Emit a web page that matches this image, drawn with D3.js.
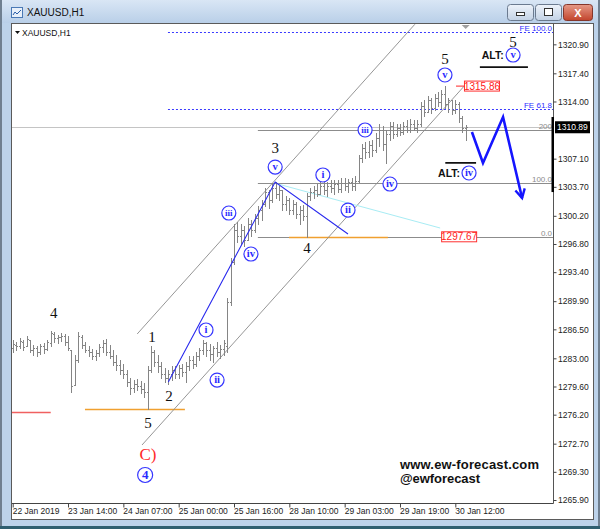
<!DOCTYPE html>
<html>
<head>
<meta charset="utf-8">
<script src="https://cdn.jsdelivr.net/npm/d3@7/dist/d3.min.js"></script>
<style>html,body{margin:0;padding:0;overflow:hidden;background:#fff}svg{display:block}</style>
</head>
<body>
<svg id="chart" width="600" height="529"></svg>
<script>
// ---------------- DATA ----------------
const symbolTitle = "XAUUSD,H1";
const timeLabels = ["22 Jan 2019","23 Jan 14:00","24 Jan 07:00","25 Jan 00:00","25 Jan 16:00","28 Jan 10:00","29 Jan 03:00","29 Jan 19:00","30 Jan 12:00"];
const timeLabelBars = [0,16,32,48,64,80,96,112,128];
const priceTicks = [1320.90,1317.40,1314.00,1307.10,1303.70,1300.20,1296.80,1293.40,1289.90,1286.50,1283.00,1279.60,1276.20,1272.70,1269.30,1265.90];

const opens = [1284.25,1284.61,1284.49,1284.97,1284.49,1285.21,1284.00,1284.25,1283.76,1284.49,
1284.13,1284.85,1285.94,1285.45,1285.57,1285.69,1284.97,1284.00,1279.78,1282.80,
1285.57,1284.61,1284.00,1283.76,1283.28,1283.64,1284.37,1284.85,1283.76,1283.28,
1282.56,1282.19,1281.59,1281.11,1280.14,1279.42,1279.90,1279.66,1279.30,1278.94,
1281.59,1283.76,1282.56,1282.07,1281.11,1280.63,1281.11,1281.59,1281.11,1281.83,
1281.35,1282.07,1282.80,1282.32,1283.28,1284.00,1284.85,1284.00,1283.52,1284.25,
1283.76,1284.13,1284.49,1289.80,1294.63,1298.49,1297.76,1298.49,1297.28,1299.21,
1298.49,1299.94,1300.90,1301.63,1303.08,1302.11,1303.56,1302.83,1303.32,1301.63,
1302.11,1300.90,1301.63,1300.42,1300.90,1300.18,1302.59,1303.08,1303.32,1302.83,
1303.80,1303.32,1303.80,1303.56,1304.04,1303.44,1304.16,1303.80,1304.28,1303.80,
1304.40,1307.18,1308.39,1307.90,1308.75,1308.14,1309.59,1310.56,1308.87,1310.08,
1311.04,1310.08,1310.80,1310.32,1311.04,1310.56,1311.28,1310.80,1311.28,1313.46,
1312.73,1314.18,1313.21,1314.42,1313.94,1314.90,1313.70,1314.18,1312.97,1313.70,
1312.01,1310.80];
const highs = [1285.21,1284.97,1285.45,1285.21,1285.69,1285.21,1284.61,1284.49,1284.73,1284.85,
1285.21,1286.30,1286.18,1285.82,1286.06,1285.94,1285.69,1284.00,1283.40,1286.18,
1285.82,1284.97,1284.49,1284.13,1284.00,1284.73,1285.21,1285.33,1284.61,1284.00,
1283.40,1282.80,1282.32,1281.59,1280.63,1280.38,1280.50,1280.26,1280.02,1282.07,
1284.49,1284.00,1283.40,1282.56,1281.83,1281.59,1282.07,1282.07,1282.19,1282.32,
1282.56,1283.28,1283.28,1283.76,1284.25,1285.21,1284.97,1284.73,1284.49,1284.97,
1284.61,1285.21,1290.28,1295.11,1299.21,1299.45,1299.21,1298.97,1299.94,1299.70,
1300.42,1301.39,1302.11,1303.56,1303.32,1304.16,1304.28,1303.80,1303.32,1302.59,
1302.35,1302.11,1301.87,1301.39,1301.51,1302.95,1303.56,1303.80,1304.04,1304.28,
1304.52,1304.28,1304.52,1304.52,1304.52,1304.77,1304.77,1304.64,1304.77,1305.01,
1307.54,1308.87,1309.11,1309.23,1309.35,1310.20,1311.28,1311.04,1310.56,1311.52,
1311.52,1311.28,1311.28,1311.52,1311.77,1311.89,1311.77,1311.77,1313.94,1314.18,
1314.66,1314.42,1314.90,1315.15,1315.39,1315.86,1314.42,1314.18,1314.18,1313.94,
1312.25,1311.16];
const lows = [1283.76,1284.00,1284.25,1284.00,1284.49,1283.76,1283.40,1283.28,1283.52,1283.64,
1284.00,1284.49,1284.97,1284.85,1285.09,1284.61,1284.00,1278.94,1279.78,1282.56,
1284.25,1283.76,1283.28,1282.92,1282.80,1283.28,1283.76,1283.40,1283.04,1282.19,
1281.59,1281.11,1280.63,1279.66,1278.69,1278.94,1279.18,1278.81,1278.33,1276.88,
1281.35,1282.07,1281.35,1280.63,1280.14,1279.90,1280.38,1280.63,1280.63,1280.87,
1280.14,1281.59,1281.83,1282.07,1282.80,1283.52,1283.28,1282.80,1282.56,1283.28,
1283.04,1283.40,1283.76,1289.44,1294.39,1297.04,1296.80,1296.56,1297.28,1297.76,
1298.25,1299.21,1299.70,1301.39,1301.14,1301.87,1302.35,1302.11,1300.90,1300.90,
1300.42,1300.42,1299.94,1299.21,1299.70,1297.67,1302.11,1302.35,1302.59,1302.83,
1302.83,1302.59,1303.08,1302.83,1303.08,1303.08,1303.32,1303.08,1303.32,1303.32,
1304.28,1306.70,1307.18,1307.30,1307.42,1307.90,1308.63,1308.14,1306.58,1309.35,
1309.59,1309.83,1309.96,1310.08,1310.32,1310.32,1310.56,1310.32,1311.04,1312.25,
1312.73,1312.61,1312.97,1313.46,1313.21,1313.21,1312.73,1312.49,1312.61,1311.52,
1310.32,1309.35];
const closes = [1284.73,1284.49,1285.09,1284.37,1285.33,1284.00,1284.25,1283.76,1284.49,1284.13,
1284.97,1286.06,1285.45,1285.57,1285.69,1284.97,1284.25,1279.66,1282.80,1285.69,
1284.61,1284.00,1283.76,1283.28,1283.64,1284.37,1284.85,1283.76,1283.28,1282.56,
1282.19,1281.59,1281.11,1280.14,1279.42,1279.90,1279.66,1279.30,1278.94,1281.59,
1283.76,1282.56,1282.07,1281.11,1280.63,1281.11,1281.59,1281.11,1281.83,1281.35,
1282.07,1282.80,1282.32,1283.28,1284.00,1284.85,1284.00,1283.52,1284.25,1283.76,
1284.13,1284.85,1289.80,1294.63,1298.49,1297.76,1298.49,1297.28,1299.21,1298.49,
1299.94,1300.90,1301.63,1303.08,1302.11,1303.56,1302.83,1303.32,1301.63,1302.11,
1300.90,1301.63,1300.42,1300.90,1300.18,1302.59,1303.08,1303.32,1302.83,1303.80,
1303.32,1303.80,1303.56,1304.04,1303.44,1304.16,1303.80,1304.28,1303.80,1304.40,
1307.18,1308.39,1307.90,1308.75,1308.14,1309.59,1310.56,1308.87,1310.08,1311.04,
1310.08,1310.80,1310.32,1311.04,1310.56,1311.28,1310.80,1311.28,1313.46,1312.73,
1314.18,1313.21,1314.42,1313.94,1314.90,1313.70,1314.18,1312.97,1313.70,1312.01,
1310.80,1310.89];

const lastPrice = 1310.89;
const markerRange = [1303.07, 1312.13];

// Fibonacci levels
const fibLabels = ["0.0","100.0","200"];
const fibPrices = [1297.67,1304.13,1310.59];
const fibStartBar = 70.9;
const feLabels = ["FE 61.8","FE 100.0"];
const fePrices = [1313.06,1322.39];
const feStartBar = 44.9;

// Channel lines (bar index, price)
const chanStartBar = [36.0,37.4];
const chanStartPrice = [1285.94,1272.54];
const chanEndBar = [116.3,131.1];
const chanEndPrice = [1323.32,1316.11];

// Wave lines
const waveLineBars = [45.0,75.9,96.96];
const waveLinePrices = [1280.14,1304.28,1298.01];
const cyanBars = [76.7,123.6];
const cyanPrices = [1304.04,1298.73];
const forecastBars = [132.8,136.0,141.8,147.3];
const forecastPrices = [1310.32,1306.58,1312.13,1302.35];

// Horizontal segments
const orangeStart = [20.9,79.9];
const orangeEnd = [49.8,108.5];
const orangePrice = [1276.88,1297.67];
const redSegStart = -0.5, redSegEnd = 11.0, redSegPrice = 1276.56;

// Price tags
const tagTexts = ["1315.86","1297.67"];
const tagPrices = [1315.86,1297.67];
const tagBars = [130.5,123.9];
const tagLeaderFrom = [128.2,null];

// Wave labels
const numLabels = ["4","1","2","5","3","4","5","5"];
const numBars = [11.9,40.3,45.2,39.1,75.9,85.1,125.0,144.7];
const numPrices = [1288.47,1285.57,1278.45,1275.19,1308.39,1296.32,1319.13,1321.18];
const circLabels = ["i","ii","iii","iv","v","i","ii","iii","iv","v","iv","v"];
const circBars = [55.9,59.1,62.5,68.9,75.9,89.7,96.97,101.9,109.1,125.0,131.96,144.7];
const circPrices = [1286.42,1280.38,1300.54,1295.59,1306.09,1305.13,1300.90,1310.56,1304.04,1317.20,1305.37,1319.61];
const bigCircLabel = "4", bigCircBar = 38.3, bigCircPrice = 1268.92;
const cLabel = "C)", cBar = 39.1, cPrice = 1271.45;
const altText = "ALT:";
const altBars = [126.2,138.8];
const altPrices = [1305.37,1319.61];
const altLineStart = [125.1,135.1];
const altLineEnd = [134.0,149.0];
const altLinePrices = [1306.58,1318.16];
const watermark = ["www.ew-forecast.com","@ewforecast"];

// ---------------- DRAW ----------------
const svg = d3.select('#chart');
const defs = svg.append('defs');
function vgrad(id, c1, c2){
  const g = defs.append('linearGradient').attr('id',id).attr('x1',0).attr('y1',0).attr('x2',0).attr('y2',1);
  g.append('stop').attr('offset','0%').attr('stop-color',c1);
  g.append('stop').attr('offset','100%').attr('stop-color',c2);
}
vgrad('tb','#d9e6f5','#b9cfe8');
vgrad('btn','#eef3fa','#c3d2e5');
vgrad('cls','#e69a88','#c2442c');

// window chrome
svg.append('rect').attr('width',600).attr('height',529).attr('fill','#bcd2ea');
svg.append('rect').attr('width',600).attr('height',23).attr('fill','url(#tb)');
svg.append('rect').attr('x',0).attr('y',0).attr('width',2).attr('height',529).attr('fill','#6f7f90');
svg.append('rect').attr('x',598).attr('y',0).attr('width',2).attr('height',529).attr('fill','#6f7f90');
svg.append('rect').attr('x',0).attr('y',526).attr('width',600).attr('height',3).attr('fill','#2f5f70');
// icon
svg.append('rect').attr('x',11.5).attr('y',7.5).attr('width',11).attr('height',10).attr('fill','#e8f0fa').attr('stroke','#4a79b5');
svg.append('path').attr('d','M13,15 L15,12 L17,14 L21,10').attr('stroke','#2a5ea8').attr('fill','none');
svg.append('text').attr('x',27).attr('y',16).text(symbolTitle)
  .attr('font-family','Liberation Sans, Arial').attr('font-size',10).attr('fill','#111');
// buttons
svg.append('rect').attr('x',507.5).attr('y',4.5).attr('width',26).attr('height',16).attr('rx',3).attr('fill','url(#btn)').attr('stroke','#6b7a8f');
svg.append('rect').attr('x',516.5).attr('y',12.5).attr('width',8).attr('height',3).attr('fill','#fff').attr('stroke','#333');
svg.append('rect').attr('x',535.5).attr('y',4.5).attr('width',26).attr('height',16).attr('rx',3).attr('fill','url(#btn)').attr('stroke','#6b7a8f');
svg.append('rect').attr('x',544.5).attr('y',8.5).attr('width',8).attr('height',7).attr('fill','#fff').attr('stroke','#333');
svg.append('rect').attr('x',563.5).attr('y',4.5).attr('width',29).attr('height',16).attr('rx',3).attr('fill','url(#cls)').attr('stroke','#84362b');
svg.append('text').attr('x',578).attr('y',16.5).attr('text-anchor','middle').text('X')
  .attr('font-family','Liberation Sans, Arial').attr('font-weight','bold').attr('font-size',11).attr('fill','#fff');

// panel
svg.append('rect').attr('x',11.5).attr('y',23.5).attr('width',582).attr('height',496).attr('fill','#fff').attr('stroke','#5a5a5a');

// scales
const x = d3.scaleLinear().domain([0,131]).range([12.7,465.7]);
const y = d3.scaleLinear().domain([1265.9,1320.9]).range([500,44.33]);
const plotL = 12, plotR = 553.5, plotT = 24, plotB = 503.5;

defs.append('clipPath').attr('id','plot').append('rect')
  .attr('x',plotL).attr('y',plotT).attr('width',plotR-plotL).attr('height',plotB-plotT);
const g = svg.append('g').attr('clip-path','url(#plot)');

const font = 'Liberation Sans, Arial, sans-serif';
const serif = 'Liberation Serif, Times New Roman, serif';

// current price line
g.append('line').attr('x1',plotL).attr('x2',plotR).attr('y1',Math.round(y(lastPrice))+0.5).attr('y2',Math.round(y(lastPrice))+0.5)
  .attr('stroke','#c4c4c4');

// FE lines
fePrices.forEach((p,i)=>{
  const yy = Math.round(y(p))+0.5;
  g.append('line').attr('x1',x(feStartBar)).attr('x2',plotR).attr('y1',yy).attr('y2',yy)
    .attr('stroke','#3a3aff').attr('stroke-dasharray','2,2');
  g.append('text').attr('x',552).attr('y',yy-1.5).attr('text-anchor','end').text(feLabels[i])
    .attr('font-family',font).attr('font-size',8).attr('fill','#3030ff');
});
// fib lines
fibPrices.forEach((p,i)=>{
  const yy = Math.round(y(p))+0.5;
  g.append('line').attr('x1',x(fibStartBar)).attr('x2',plotR).attr('y1',yy).attr('y2',yy).attr('stroke','#8c8c8c');
  g.append('text').attr('x',552).attr('y',yy-1.5).attr('text-anchor','end').text(fibLabels[i])
    .attr('font-family',font).attr('font-size',8).attr('fill','#8c8c8c');
});
// orange / red segments
orangePrice.forEach((p,i)=>{
  const yy = Math.round(y(p))+0.5;
  g.append('line').attr('x1',x(orangeStart[i])).attr('x2',x(orangeEnd[i])).attr('y1',yy).attr('y2',yy)
    .attr('stroke','#f0a030').attr('stroke-width',1.5);
});
{
  const yy = Math.round(y(redSegPrice))+0.5;
  g.append('line').attr('x1',x(redSegStart)).attr('x2',x(redSegEnd)).attr('y1',yy).attr('y2',yy)
    .attr('stroke','#f06060').attr('stroke-width',1.5);
}

// channel lines
chanStartBar.forEach((b,i)=>{
  g.append('line').attr('x1',x(b)).attr('y1',y(chanStartPrice[i])).attr('x2',x(chanEndBar[i])).attr('y2',y(chanEndPrice[i]))
    .attr('stroke','#8a8a8a').attr('stroke-width',0.9);
});

// cyan line
g.append('line').attr('x1',x(cyanBars[0])).attr('y1',y(cyanPrices[0])).attr('x2',x(cyanBars[1])).attr('y2',y(cyanPrices[1]))
  .attr('stroke','#a8ecf4').attr('stroke-width',1);

// bars
const barG = g.append('g').attr('stroke','#858585').attr('shape-rendering','crispEdges');
opens.forEach((o,i)=>{
  const xi = Math.round(x(i))+0.5;
  barG.append('line').attr('x1',xi).attr('x2',xi).attr('y1',Math.round(y(highs[i]))).attr('y2',Math.round(y(lows[i]))+1);
  const yo = Math.round(y(o))+0.5, yc = Math.round(y(closes[i]))+0.5;
  barG.append('line').attr('x1',xi-1.5).attr('x2',xi).attr('y1',yo).attr('y2',yo);
  barG.append('line').attr('x1',xi).attr('x2',xi+1.5).attr('y1',yc).attr('y2',yc);
});

// blue wave line
g.append('path').attr('d',d3.line().x(d=>x(d[0])).y(d=>y(d[1]))(waveLineBars.map((b,i)=>[b,waveLinePrices[i]])))
  .attr('fill','none').attr('stroke','#2a2aee').attr('stroke-width',1.1);

// forecast arrow
const fpts = forecastBars.map((b,i)=>[x(b),y(forecastPrices[i])]);
g.append('path').attr('d',d3.line()(fpts)).attr('fill','none').attr('stroke','#1515ff')
  .attr('stroke-width',2.6).attr('stroke-linejoin','miter');
{
  const a = fpts[fpts.length-2], b = fpts[fpts.length-1];
  const ang = Math.atan2(b[1]-a[1], b[0]-a[0]);
  const L = 10, sp = 0.5;
  const p1 = [b[0]-L*Math.cos(ang-sp), b[1]-L*Math.sin(ang-sp)];
  const p2 = [b[0]-L*Math.cos(ang+sp), b[1]-L*Math.sin(ang+sp)];
  g.append('path').attr('d',d3.line()([p1,b,p2])).attr('fill','none').attr('stroke','#1515ff').attr('stroke-width',2.4);
}

// ALT underlines
altLinePrices.forEach((p,i)=>{
  g.append('line').attr('x1',x(altLineStart[i])).attr('x2',x(altLineEnd[i])).attr('y1',y(p)).attr('y2',y(p))
    .attr('stroke','#111').attr('stroke-width',1.8);
});

// price tags
tagPrices.forEach((p,i)=>{
  const yy = y(p);
  if (tagLeaderFrom[i]!==null){
    g.append('line').attr('x1',x(tagLeaderFrom[i])).attr('x2',x(tagBars[i])).attr('y1',yy).attr('y2',yy).attr('stroke','#ff5050').attr('stroke-width',1.2);
  }
  const bx = x(tagBars[i]);
  g.append('rect').attr('x',bx+0.5).attr('y',yy-5).attr('width',35).attr('height',10).attr('fill','#fff').attr('stroke','#ff3030');
  g.append('text').attr('x',bx+18).attr('y',yy+3.6).attr('text-anchor','middle').text(tagTexts[i])
    .attr('font-family',font).attr('font-size',10).attr('fill','#ff2020');
});

// chart-shift marker
g.append('path').attr('d',`M${x(131)-4},25 L${x(131)+4},25 L${x(131)},29 Z`).attr('fill','#a0a0a0');

// symbol label in chart
svg.append('path').attr('d','M15,31 L20,31 L17.5,34 Z').attr('fill','#111');
svg.append('text').attr('x',22).attr('y',35.5).text(symbolTitle)
  .attr('font-family',font).attr('font-size',8.5).attr('fill','#111');

// wave numbers
numLabels.forEach((t,i)=>{
  svg.append('text').attr('x',x(numBars[i])).attr('y',y(numPrices[i])+5).attr('text-anchor','middle').text(t)
    .attr('font-family',serif).attr('font-size',15).attr('fill','#111');
});
svg.append('text').attr('x',x(cBar)).attr('y',y(cPrice)+6).attr('text-anchor','middle').text(cLabel)
  .attr('font-family',serif).attr('font-size',17).attr('fill','#ff2a2a');
// circled labels
function circ(t, b, p, r, fs){
  const cx = x(b), cy = y(p);
  svg.append('circle').attr('cx',cx).attr('cy',cy).attr('r',r).attr('fill','#fff').attr('stroke','#3535ff').attr('stroke-width',1.2);
  svg.append('text').attr('x',cx).attr('y',cy+fs*0.33).attr('text-anchor','middle').text(t)
    .attr('font-family',serif).attr('font-weight','bold').attr('font-size',fs).attr('fill','#2b2bff');
}
circLabels.forEach((t,i)=>circ(t,circBars[i],circPrices[i],7,t.length>2?9:10.5));
circ(bigCircLabel,bigCircBar,bigCircPrice,7.5,13);
// ALT
altBars.forEach((b,i)=>{
  svg.append('text').attr('x',x(b)).attr('y',y(altPrices[i])+4).attr('text-anchor','middle').text(altText)
    .attr('font-family',font).attr('font-weight','bold').attr('font-size',10.5).attr('fill','#111');
});

// watermark
svg.append('text').attr('x',400).attr('y',468.5).text(watermark[0]).attr('textLength',139)
  .attr('font-family',font).attr('font-weight','bold').attr('font-size',13).attr('fill','#111');
svg.append('text').attr('x',400).attr('y',482.5).text(watermark[1]).attr('textLength',80)
  .attr('font-family',font).attr('font-weight','bold').attr('font-size',13).attr('fill','#111');

// axes frame
svg.append('line').attr('x1',plotR).attr('x2',plotR).attr('y1',plotT).attr('y2',plotB).attr('stroke','#555');
svg.append('line').attr('x1',plotL).attr('x2',plotR).attr('y1',plotB).attr('y2',plotB).attr('stroke','#444');

// price axis
const gy = svg.append('g').attr('transform',`translate(${plotR},0)`)
  .call(d3.axisRight(y).tickValues(priceTicks).tickSize(3).tickPadding(1.5).tickFormat(d3.format('.2f')));
gy.select('.domain').remove();
gy.selectAll('line').attr('stroke','#444');
gy.selectAll('text').attr('font-family',font).attr('font-size',8.5).attr('fill','#222');

// time axis
const gx = svg.append('g').attr('transform',`translate(0,${plotB})`)
  .call(d3.axisBottom(x).tickValues(timeLabelBars).tickSize(4).tickFormat((d,i)=>timeLabels[i]));
gx.select('.domain').remove();
gx.selectAll('line').attr('stroke','#444');
gx.selectAll('text').attr('text-anchor','start').attr('dx',-0.5).attr('y',4)
  .attr('font-family',font).attr('font-size',8.5).attr('fill','#222');

// last price marker + box
svg.append('rect').attr('x',plotR-2).attr('y',y(markerRange[1])).attr('width',2.5).attr('height',y(markerRange[0])-y(markerRange[1])).attr('fill','#000');
{
  const yy = y(lastPrice);
  svg.append('rect').attr('x',555).attr('y',yy-6).attr('width',35).attr('height',12).attr('fill','#000');
  svg.append('text').attr('x',557).attr('y',yy+3).text(d3.format('.2f')(lastPrice))
    .attr('font-family',font).attr('font-size',8.5).attr('fill','#fff');
}
</script>
</body>
</html>
